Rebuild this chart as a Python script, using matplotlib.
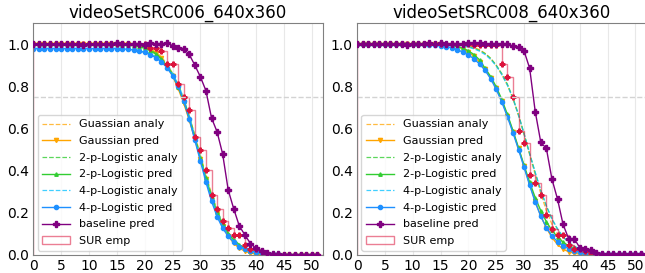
import numpy as np
import matplotlib
matplotlib.use('Agg')
import matplotlib.pyplot as plt

# Asse x comune (indici 0..51)
x = np.arange(52)
edges = np.arange(53)

titles = ['videoSetSRC006_640x360', 'videoSetSRC008_640x360']

# ---- videoSetSRC006 ----
gauss_analy_006 = [1.0, 1.0, 1.0, 1.0, 1.0, 1.0, 1.0, 1.0, 1.0, 1.0, 1.0, 1.0, 1.0,
                   1.0, 1.0, 1.0, 1.0, 1.0, 0.998, 0.995, 0.989, 0.979, 0.963, 0.94,
                   0.905, 0.862, 0.805, 0.738, 0.66, 0.57, 0.475, 0.38, 0.29, 0.212,
                   0.147, 0.097, 0.06, 0.035, 0.02, 0.01, 0.005, 0.002, 0.001, 0.0,
                   0.0, 0.0, 0.0, 0.0, 0.0, 0.0, 0.0, 0.0]
gauss_pred_006 = [1.0, 1.0, 1.0, 1.0, 1.0, 1.0, 1.0, 1.0, 1.0, 1.0, 1.0, 1.0, 1.0,
                  1.0, 1.0, 1.0, 1.0, 0.999, 0.997, 0.993, 0.986, 0.975, 0.958, 0.932,
                  0.895, 0.85, 0.79, 0.72, 0.64, 0.55, 0.455, 0.36, 0.275, 0.2,
                  0.138, 0.09, 0.055, 0.032, 0.018, 0.009, 0.004, 0.002, 0.001, 0.0,
                  0.0, 0.0, 0.0, 0.0, 0.0, 0.0, 0.0, 0.0]
log2_analy_006 = [1.0, 1.0, 1.0, 1.0, 1.0, 1.0, 1.0, 1.0, 1.0, 1.0, 1.0, 1.0, 1.0,
                  1.0, 1.0, 0.998, 0.997, 0.996, 0.993, 0.988, 0.982, 0.971, 0.956,
                  0.932, 0.9, 0.86, 0.806, 0.74, 0.658, 0.566, 0.468, 0.373, 0.286,
                  0.212, 0.152, 0.106, 0.073, 0.05, 0.034, 0.022, 0.015, 0.01, 0.006,
                  0.004, 0.003, 0.002, 0.001, 0.001, 0.001, 0.001, 0.001, 0.001]
log2_pred_006 = [1.0, 1.0, 1.0, 1.0, 1.0, 1.0, 1.0, 1.0, 1.0, 1.0, 1.0, 1.0, 1.0,
                 1.0, 1.0, 0.998, 0.997, 0.995, 0.992, 0.987, 0.98, 0.968, 0.952,
                 0.928, 0.895, 0.853, 0.798, 0.73, 0.648, 0.555, 0.458, 0.363, 0.276,
                 0.203, 0.145, 0.101, 0.07, 0.047, 0.032, 0.021, 0.014, 0.009, 0.006,
                 0.004, 0.003, 0.002, 0.001, 0.001, 0.001, 0.001, 0.001, 0.001]
log4_analy_006 = [0.98, 0.98, 0.98, 0.98, 0.98, 0.98, 0.98, 0.98, 0.98, 0.98, 0.98,
                  0.98, 0.98, 0.98, 0.98, 0.98, 0.979, 0.977, 0.974, 0.969, 0.962,
                  0.953, 0.94, 0.92, 0.895, 0.86, 0.81, 0.745, 0.66, 0.56, 0.46, 0.36,
                  0.27, 0.195, 0.137, 0.095, 0.065, 0.044, 0.03, 0.02, 0.013, 0.009,
                  0.006, 0.004, 0.003, 0.002, 0.002, 0.002, 0.002, 0.002, 0.002, 0.002]
log4_pred_006 = [0.978, 0.978, 0.978, 0.978, 0.978, 0.978, 0.978, 0.978, 0.978, 0.978,
                 0.978, 0.978, 0.978, 0.978, 0.978, 0.978, 0.977, 0.975, 0.972, 0.967,
                 0.96, 0.95, 0.935, 0.915, 0.888, 0.85, 0.8, 0.73, 0.645, 0.545, 0.445,
                 0.345, 0.255, 0.182, 0.127, 0.088, 0.06, 0.04, 0.027, 0.018, 0.012,
                 0.008, 0.005, 0.004, 0.003, 0.002, 0.002, 0.002, 0.002, 0.002, 0.002,
                 0.002]
base_pred_006 = [1.0, 1.0, 1.0, 1.0, 1.0, 1.0, 1.0, 1.0, 1.0, 0.995, 1.0, 1.0, 0.998,
                 1.0, 1.0, 1.005, 1.0, 1.0, 1.0, 1.0, 0.997, 1.003, 0.998, 1.0, 1.007,
                 0.992, 0.982, 0.978, 0.951, 0.9, 0.845, 0.779, 0.65, 0.584, 0.479,
                 0.308, 0.218, 0.137, 0.095, 0.054, 0.032, 0.019, 0.01, 0.005, 0.003,
                 0.002, 0.002, 0.002, 0.002, 0.002, 0.002, 0.002]
sur_emp_006 = [1.0, 1.0, 1.0, 1.0, 1.0, 1.0, 1.0, 1.0, 1.0, 1.0, 1.0, 1.0, 1.0, 1.0,
               1.0, 1.0, 1.0, 1.0, 1.0, 1.0, 1.0, 0.98, 0.98, 0.968, 0.905, 0.905,
               0.81, 0.75, 0.685, 0.56, 0.5, 0.405, 0.284, 0.218, 0.16, 0.13, 0.095,
               0.095, 0.045, 0.03, 0.03, 0.02, 0.01, 0.0, 0.0, 0.0, 0.0, 0.0, 0.0,
               0.0, 0.0, 0.0]

# ---- videoSetSRC008 ----
gauss_analy_008 = [1.0, 1.0, 1.0, 1.0, 1.0, 1.0, 1.0, 1.0, 1.0, 1.0, 1.0, 1.0, 1.0,
                   1.0, 1.0, 1.0, 1.0, 0.999, 0.998, 0.996, 0.992, 0.985, 0.973,
                   0.956, 0.932, 0.898, 0.855, 0.805, 0.74, 0.66, 0.57, 0.475, 0.38,
                   0.29, 0.21, 0.145, 0.095, 0.058, 0.033, 0.018, 0.009, 0.004,
                   0.002, 0.001, 0.0, 0.0, 0.0, 0.0, 0.0, 0.0, 0.0, 0.0]
gauss_pred_008 = [1.0, 1.0, 1.0, 1.0, 1.0, 1.0, 1.0, 1.0, 1.0, 1.0, 1.0, 1.0, 1.0,
                  1.0, 1.0, 0.999, 0.997, 0.994, 0.988, 0.978, 0.963, 0.942, 0.915,
                  0.88, 0.84, 0.79, 0.73, 0.66, 0.585, 0.505, 0.42, 0.335, 0.255,
                  0.185, 0.128, 0.083, 0.05, 0.028, 0.015, 0.008, 0.004, 0.002, 0.001,
                  0.0, 0.0, 0.0, 0.0, 0.0, 0.0, 0.0, 0.0, 0.0]
log2_analy_008 = [1.0, 1.0, 1.0, 1.0, 1.0, 1.0, 1.0, 1.0, 1.0, 1.0, 1.0, 1.0, 1.0,
                  1.0, 1.0, 0.999, 0.999, 0.998, 0.996, 0.993, 0.988, 0.98, 0.97,
                  0.955, 0.932, 0.9, 0.86, 0.81, 0.745, 0.665, 0.575, 0.48, 0.39,
                  0.305, 0.232, 0.17, 0.122, 0.085, 0.059, 0.04, 0.028, 0.019, 0.013,
                  0.009, 0.006, 0.004, 0.003, 0.003, 0.003, 0.003, 0.003, 0.003]
log2_pred_008 = [1.0, 1.0, 1.0, 1.0, 1.0, 1.0, 1.0, 1.0, 1.0, 1.0, 1.0, 1.0, 1.0,
                 1.0, 0.999, 0.998, 0.996, 0.993, 0.988, 0.98, 0.968, 0.95, 0.925,
                 0.885, 0.846, 0.797, 0.737, 0.667, 0.59, 0.508, 0.425, 0.345, 0.272,
                 0.21, 0.158, 0.117, 0.085, 0.061, 0.043, 0.03, 0.021, 0.015, 0.01,
                 0.007, 0.005, 0.003, 0.002, 0.002, 0.002, 0.002, 0.002, 0.002]
log4_analy_008 = [1.0, 1.0, 1.0, 1.0, 1.0, 1.0, 1.0, 1.0, 1.0, 1.0, 1.0, 1.0, 1.0,
                  0.999, 0.999, 0.998, 0.997, 0.996, 0.994, 0.99, 0.985, 0.977, 0.966,
                  0.95, 0.927, 0.896, 0.855, 0.805, 0.742, 0.663, 0.574, 0.48, 0.391,
                  0.307, 0.234, 0.172, 0.124, 0.087, 0.061, 0.042, 0.029, 0.02, 0.014,
                  0.01, 0.007, 0.005, 0.004, 0.004, 0.004, 0.004, 0.004, 0.004]
log4_pred_008 = [1.0, 1.0, 1.0, 1.0, 1.0, 1.0, 1.0, 1.0, 1.0, 1.0, 1.0, 0.999, 0.998,
                 0.997, 0.995, 0.992, 0.988, 0.982, 0.973, 0.962, 0.948, 0.93, 0.905,
                 0.875, 0.835, 0.785, 0.725, 0.655, 0.58, 0.5, 0.415, 0.33, 0.25,
                 0.183, 0.13, 0.09, 0.063, 0.043, 0.03, 0.02, 0.014, 0.01, 0.007,
                 0.005, 0.004, 0.003, 0.003, 0.003, 0.003, 0.003, 0.003, 0.003]
base_pred_008 = [1.0, 1.0, 1.0, 1.0, 1.0, 1.0, 1.0, 1.0, 1.0, 0.995, 1.0, 1.0, 1.0,
                 1.006, 1.0, 1.003, 1.0, 1.0, 1.0, 1.0, 1.003, 1.004, 1.004, 1.002,
                 1.0, 1.0, 0.998, 1.0, 0.99, 0.987, 0.967, 0.885, 0.68, 0.534, 0.505,
                 0.36, 0.265, 0.145, 0.077, 0.077, 0.035, 0.028, 0.025, 0.01, 0.006,
                 0.005, 0.005, 0.005, 0.005, 0.004, 0.004, 0.004]
sur_emp_008 = [1.0, 1.0, 1.0, 1.0, 1.0, 1.0, 1.0, 1.0, 1.0, 1.0, 1.0, 1.0, 1.0, 1.0,
               1.0, 1.0, 1.0, 1.0, 1.0, 1.0, 1.0, 0.995, 0.995, 0.995, 0.995, 0.995,
               0.905, 0.843, 0.75, 0.59, 0.53, 0.378, 0.343, 0.284, 0.19, 0.125, 0.095,
               0.095, 0.045, 0.03, 0.03, 0.02, 0.01, 0.0, 0.0, 0.0, 0.0, 0.0, 0.0,
               0.0, 0.0, 0.0]

datasets = [
    (gauss_analy_006, gauss_pred_006, log2_analy_006, log2_pred_006,
     log4_analy_006, log4_pred_006, base_pred_006, sur_emp_006),
    (gauss_analy_008, gauss_pred_008, log2_analy_008, log2_pred_008,
     log4_analy_008, log4_pred_008, base_pred_008, sur_emp_008),
]

fig = plt.figure(figsize=(6.45, 2.73), dpi=100)
positions = [[0.0516, 0.066, 0.449, 0.85], [0.5535, 0.066, 0.449, 0.85]]

for pos, title, data in zip(positions, titles, datasets):
    ga, gp, l2a, l2p, l4a, l4p, base, sur = data
    ax = fig.add_axes(pos)

    ax.plot(x, ga, '--', color='orange', lw=0.9, alpha=0.75, label='Guassian analy')
    ax.plot(x, gp, '-', color='orange', lw=1, marker='v', ms=3, label='Gaussian pred')
    ax.plot(x, l2a, '--', color='limegreen', lw=0.9, alpha=0.8, label='2-p-Logistic analy')
    ax.plot(x, l2p, '-', color='limegreen', lw=1, marker='^', ms=2.5, label='2-p-Logistic pred')
    ax.plot(x, l4a, '--', color='deepskyblue', lw=0.9, alpha=0.75, label='4-p-Logistic analy')
    ax.plot(x, l4p, '-', color='dodgerblue', lw=1, marker='o', ms=3, label='4-p-Logistic pred')
    # punti rossi del SUR sotto la curva baseline
    ax.plot(x, sur, 'P', color='crimson', ms=3.5, ls='none', zorder=2)
    ax.plot(x, base, '-', color='purple', lw=1, marker='P', ms=5,
            label='baseline pred', zorder=3)
    ax.hist(x, bins=edges, weights=sur, histtype='step', color='crimson',
            alpha=0.55, lw=1, label='SUR emp')

    ax.axhline(0.75, color='lightgrey', ls='--', lw=1)

    ax.set_xlim(0, 52)
    ax.set_ylim(0, 1.1)
    ax.set_xticks(np.arange(0, 51, 5))
    ax.set_yticks(np.arange(0, 1.01, 0.2))
    ax.tick_params(labelsize=10, length=0, pad=3)
    ax.grid(axis='x', color='lightgrey', alpha=0.5, lw=0.8)
    for s in ax.spines.values():
        s.set_color('grey')
    ax.set_title(title, fontsize=12, pad=4)
    ax.legend(loc='lower left', fontsize=8, handlelength=2.5,
              borderaxespad=0.4, labelspacing=0.6)

fig.savefig('out.png', dpi=100)
